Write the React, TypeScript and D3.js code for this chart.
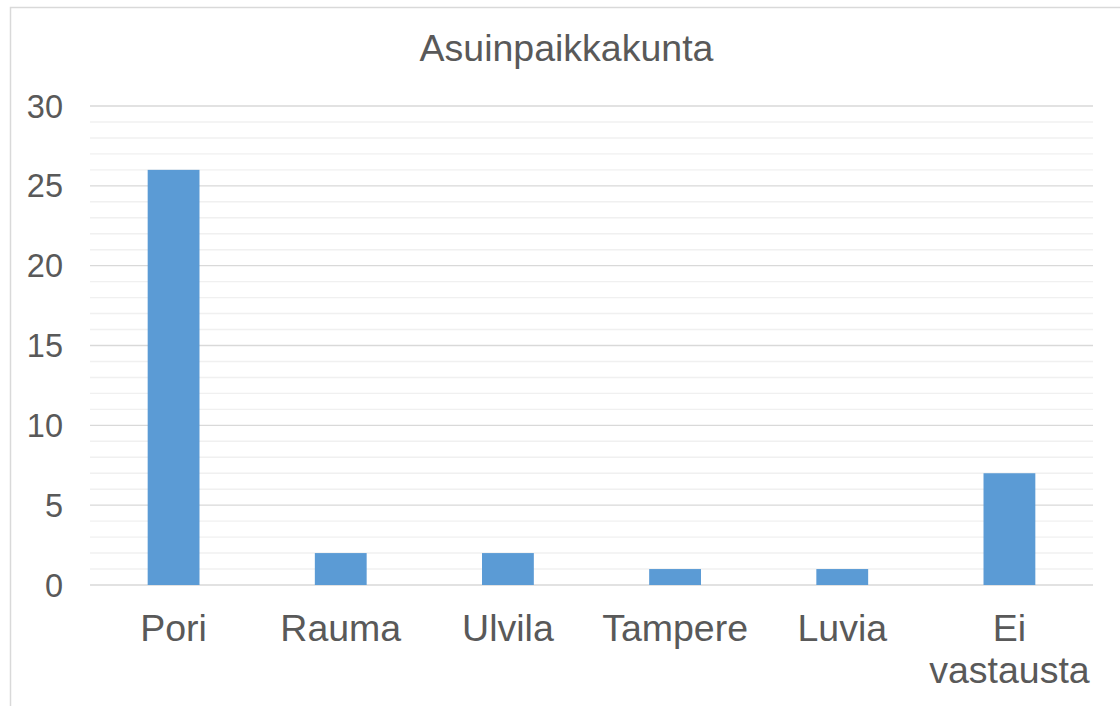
import React from "react";
import * as d3 from "d3";

const title = "Asuinpaikkakunta";
const categories = ["Pori", "Rauma", "Ulvila", "Tampere", "Luvia", "Ei vastausta"];
const values = [26, 2, 2, 1, 1, 7];
const majorTicks = [0, 5, 10, 15, 20, 25, 30];
const minorTicks = d3.range(0, 31, 1);

const W = 1120;
const H = 706;
const left = 90;
const right = 1093;
const top = 106;
const bottom = 585;

const textColor = "#595959";
const barColor = "#5B9BD5";
const font = "'Liberation Sans', Arial, sans-serif";

export default function App() {
  const x = d3
    .scaleBand<string>()
    .domain(categories)
    .range([left, right])
    .paddingInner(0.69)
    .paddingOuter(0.345);
  const y = d3.scaleLinear().domain([0, 30]).range([bottom, top]);

  const labelLines = (c: string) => (c === "Ei vastausta" ? ["Ei", "vastausta"] : [c]);

  return (
    <svg
      width={W}
      height={H}
      style={{ position: "absolute", left: 0, top: 0, background: "#fff" }}
      fontFamily={font}
    >
      <rect x={0} y={0} width={W} height={H} fill="#fff" />
      <rect x={10.5} y={7.5} width={1300} height={900} fill="none" stroke="#D9D9D9" strokeWidth={1.5} />
      <text x={566.5} y={61} textAnchor="middle" fontSize={37.5} fill={textColor}>
        {title}
      </text>
      {minorTicks
        .filter((t) => !majorTicks.includes(t))
        .map((t) => (
          <line key={"m" + t} x1={left} x2={right} y1={y(t)} y2={y(t)} stroke="#F0F0F0" strokeWidth={1.4} />
        ))}
      {majorTicks.map((t) => (
        <line key={"M" + t} x1={left} x2={right} y1={y(t)} y2={y(t)} stroke="#D9D9D9" strokeWidth={1.4} />
      ))}
      {majorTicks.map((t) => (
        <text key={"l" + t} x={63} y={y(t) + 11.5} textAnchor="end" fontSize={32.5} fill={textColor}>
          {t}
        </text>
      ))}
      {categories.map((c, i) => (
        <rect
          key={c}
          x={x(c)!}
          y={y(values[i])}
          width={x.bandwidth()}
          height={y(0) - y(values[i])}
          fill={barColor}
        />
      ))}
      {categories.map((c) => {
        const cx = x(c)! + x.bandwidth() / 2;
        return (
          <text key={"c" + c} textAnchor="middle" fontSize={37.5} fill={textColor}>
            {labelLines(c).map((ln, j) => (
              <tspan key={j} x={cx} y={641 + j * 42}>
                {ln}
              </tspan>
            ))}
          </text>
        );
      })}
    </svg>
  );
}
